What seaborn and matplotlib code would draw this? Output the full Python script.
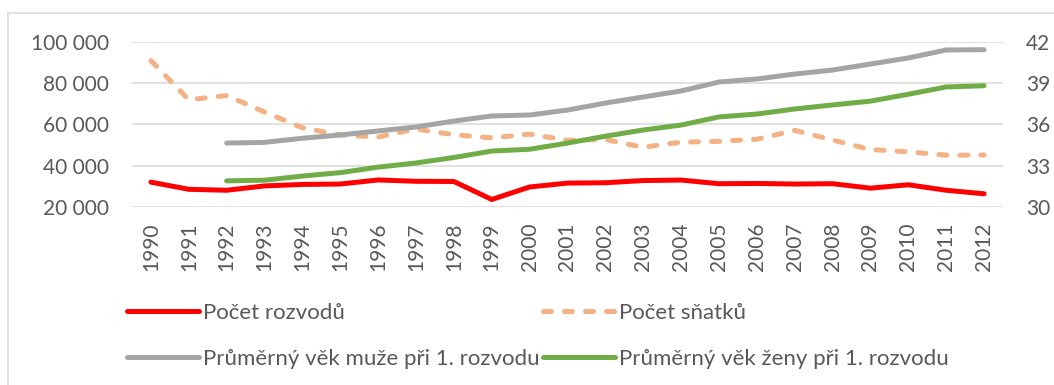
import matplotlib
matplotlib.use("Agg")
import matplotlib.pyplot as plt
import matplotlib.ticker as mticker
from matplotlib.patches import Rectangle
import numpy as np
import pandas as pd
import seaborn as sns

# Czech Republic: divorces, marriages and mean age at first divorce
years = list(range(1990, 2013))
divorces = [32055, 28572, 28113, 30227, 30939, 31135, 33113, 32465, 32363, 23657,
            29704, 31586, 31758, 32824, 33060, 31288, 31415, 31129, 31300, 29133,
            30783, 28113, 26402]
marriages = [90953, 71973, 74060, 66033, 58440, 54956, 53896, 57804, 55027, 53523,
             55321, 52374, 52732, 48943, 51447, 51829, 52860, 57157, 52457, 47862,
             46746, 45137, 45206]
age_years = list(range(1992, 2013))
age_men = [34.65, 34.7, 35.0, 35.24, 35.53, 35.82, 36.25, 36.62, 36.69, 37.05,
           37.56, 38.0, 38.44, 39.09, 39.31, 39.67, 39.96, 40.4, 40.84, 41.42, 41.44]
age_women = [31.9, 31.95, 32.25, 32.5, 32.9, 33.2, 33.6, 34.07, 34.2, 34.65,
             35.15, 35.6, 35.96, 36.55, 36.76, 37.13, 37.42, 37.7, 38.2, 38.73, 38.82]

left_ticks = [20000, 40000, 60000, 80000, 100000]
right_ticks = [30, 33, 36, 39, 42]

lab_div = "Počet rozvodů"
lab_mar = "Počet sňatků"
lab_men = "Průměrný věk muže při 1. rozvodu"
lab_wom = "Průměrný věk ženy při 1. rozvodu"

counts = pd.DataFrame({"rok": years, lab_div: divorces, lab_mar: marriages})
ages = pd.DataFrame({"rok": age_years, lab_men: age_men, lab_wom: age_women})

sns.set_theme(style="white")
plt.rcParams["font.family"] = ["Lato", "DejaVu Sans"]

W, H = 1054, 385
fig = plt.figure(figsize=(W / 100, H / 100), dpi=100)
ax = fig.add_axes([132 / W, 1 - 207 / H, (1003 - 132) / W, (207 - 42) / H])
ax2 = ax.twinx()

RED = "#FF0000"
PEACH = "#F4B183"
GRAY = "#A5A5A5"
GREEN = "#70AD47"
LW = 3.6
TXT = "#595959"

sns.lineplot(data=counts, x="rok", y=lab_div, ax=ax, color=RED, lw=LW,
             solid_capstyle="round", label=lab_div, legend=False)
sns.lineplot(data=counts, x="rok", y=lab_mar, ax=ax, color=PEACH, lw=LW,
             label=lab_mar, legend=False)
mar_line = ax.lines[-1]
mar_line.set_linestyle((0, (1.6, 2.6)))
mar_line.set_dash_capstyle("round")
sns.lineplot(data=ages, x="rok", y=lab_men, ax=ax2, color=GRAY, lw=LW,
             solid_capstyle="round", label=lab_men, legend=False)
sns.lineplot(data=ages, x="rok", y=lab_wom, ax=ax2, color=GREEN, lw=LW,
             solid_capstyle="round", label=lab_wom, legend=False)

ax.set_xlim(years[0] - 0.5, years[-1] + 0.5)
ax.set_ylim(left_ticks[0], left_ticks[-1])
ax2.set_ylim(right_ticks[0], right_ticks[-1])
ax.set_xticks(years)
ax.set_xticklabels([str(y) for y in years], rotation=90, fontsize=15, color=TXT)
ax.set_yticks(left_ticks)
ax.yaxis.set_major_formatter(mticker.FuncFormatter(lambda v, p: f"{int(v):,}".replace(",", " ")))
ax2.set_yticks(right_ticks)
for a in (ax, ax2):
    a.set_xlabel("")
    a.set_ylabel("")
    for s in a.spines.values():
        s.set_visible(False)
    a.tick_params(axis="y", length=0, labelsize=15, labelcolor=TXT, pad=16.5)
ax.tick_params(axis="x", length=0, pad=11.5)
ax.grid(axis="y", color="#D9D9D9", lw=1.1)
ax.grid(axis="x", visible=False)
ax2.grid(False)

h_div, h_mar = ax.lines[0], mar_line
h_men, h_wom = ax2.lines[0], ax2.lines[1]
fig.legend(handles=[h_div, h_men, h_mar, h_wom],
           labels=[lab_div, lab_men, lab_mar, lab_wom],
           ncol=2, loc="upper left", bbox_to_anchor=(107 / W, 1 - 283 / H),
           frameon=False, fontsize=16, handlelength=3.25, handletextpad=0.18,
           columnspacing=0.15, labelspacing=1.15, labelcolor=TXT)

fig.patches.append(Rectangle((8 / W, -0.1), 1.2, 1.1 - 13 / H,
                             transform=fig.transFigure, fill=False,
                             edgecolor="#D9D9D9", lw=1.1))

fig.savefig("out.png", dpi=100, facecolor="white")
